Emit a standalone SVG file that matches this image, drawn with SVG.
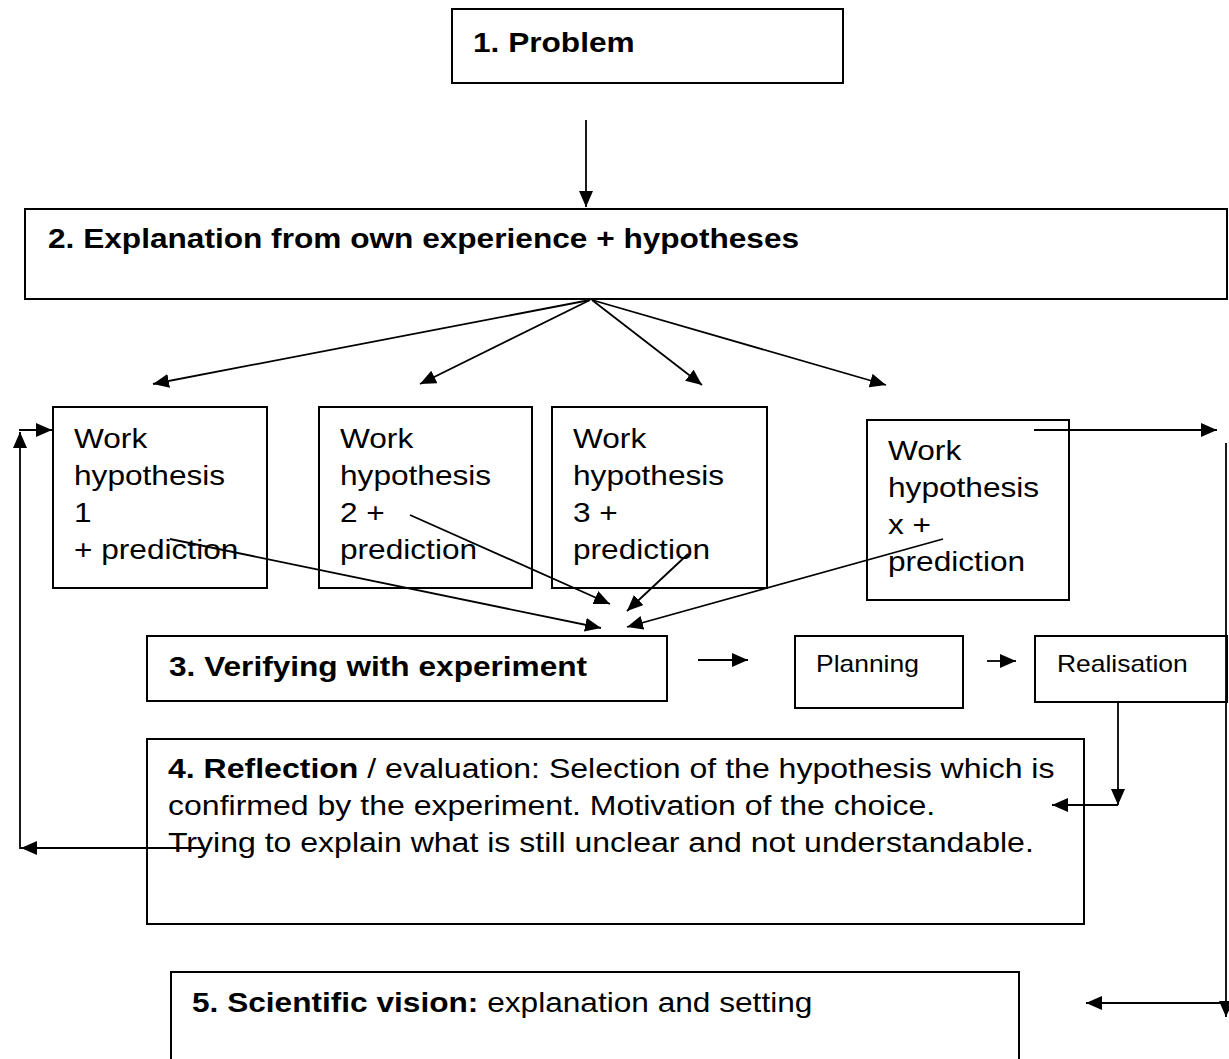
<svg xmlns="http://www.w3.org/2000/svg" width="1229" height="1059" viewBox="0 0 1229 1059">
<style>
  .box { fill: none; stroke: #000; stroke-width: 2; }
  .t { font-family: "Liberation Sans", Arial, sans-serif; font-size: 27.5px; fill: #000; }
  .b { font-weight: bold; }
  .s { font-size: 23px; }
  .c { fill: none; stroke: #000; stroke-width: 1.8; }
  .a { marker-end: url(#ah); }
</style>
<defs>
  <marker id="ah" markerUnits="userSpaceOnUse" markerWidth="17" markerHeight="15" refX="16" refY="7" orient="auto">
    <path d="M0,0 L16,7 L0,14 z" fill="#000"/>
  </marker>
</defs>
<rect width="1229" height="1059" fill="#fff"/>

<g id="n1">
  <rect class="box" x="452" y="9" width="391" height="74"/>
  <text class="t b" transform="translate(473,52) scale(1.15,1)">1. Problem</text>
</g>

<g id="n2">
  <rect class="box" x="25" y="209" width="1202" height="90"/>
  <text class="t b" transform="translate(48,248) scale(1.15,1)">2. Explanation from own experience + hypotheses</text>
</g>

<g id="wh1">
  <rect class="box" x="53" y="407" width="214" height="181"/>
  <text class="t" transform="translate(74,448) scale(1.15,1)"><tspan x="0" y="0">Work</tspan><tspan x="0" y="37">hypothesis</tspan><tspan x="0" y="74">1</tspan><tspan x="0" y="111">+ prediction</tspan></text>
</g>

<g id="wh2">
  <rect class="box" x="319" y="407" width="213" height="181"/>
  <text class="t" transform="translate(340,448) scale(1.15,1)"><tspan x="0" y="0">Work</tspan><tspan x="0" y="37">hypothesis</tspan><tspan x="0" y="74">2 +</tspan><tspan x="0" y="111">prediction</tspan></text>
</g>

<g id="wh3">
  <rect class="box" x="552" y="407" width="215" height="181"/>
  <text class="t" transform="translate(573,448) scale(1.15,1)"><tspan x="0" y="0">Work</tspan><tspan x="0" y="37">hypothesis</tspan><tspan x="0" y="74">3 +</tspan><tspan x="0" y="111">prediction</tspan></text>
</g>

<g id="whx">
  <rect class="box" x="867" y="420" width="202" height="180"/>
  <text class="t" transform="translate(888,460) scale(1.15,1)"><tspan x="0" y="0">Work</tspan><tspan x="0" y="37">hypothesis</tspan><tspan x="0" y="74">x +</tspan><tspan x="0" y="111">prediction</tspan></text>
</g>

<g id="n3">
  <rect class="box" x="147" y="636" width="520" height="65"/>
  <text class="t b" transform="translate(169,676) scale(1.15,1)">3. Verifying with experiment</text>
</g>

<g id="planning">
  <rect class="box" x="795" y="636" width="168" height="72"/>
  <text class="t s" transform="translate(816,672) scale(1.15,1)">Planning</text>
</g>

<g id="realisation">
  <rect class="box" x="1035" y="636" width="192" height="66"/>
  <text class="t s" transform="translate(1057,672) scale(1.15,1)">Realisation</text>
</g>

<g id="n4">
  <rect class="box" x="147" y="739" width="937" height="185"/>
  <text class="t" transform="translate(168,778) scale(1.165,1)"><tspan x="0" y="0"><tspan class="b">4. Reflection</tspan> / evaluation: Selection of the hypothesis which is</tspan><tspan x="0" y="37">confirmed by the experiment. Motivation of the choice.</tspan><tspan x="0" y="74">Trying to explain what is still unclear and not understandable.</tspan></text>
</g>

<g id="n5">
  <rect class="box" x="171" y="972" width="848" height="100"/>
  <text class="t" transform="translate(192,1012) scale(1.15,1)"><tspan class="b">5. Scientific vision:</tspan> explanation and setting</text>
</g>

<g id="connectors">
  <line class="c a" x1="586" y1="120" x2="586" y2="207"/>
  <line class="c a" x1="590" y1="300" x2="153" y2="384"/>
  <line class="c a" x1="590" y1="300" x2="420" y2="384"/>
  <line class="c a" x1="592" y1="300" x2="702" y2="385"/>
  <line class="c a" x1="592" y1="300" x2="886" y2="385"/>
  <line class="c a" x1="170" y1="539" x2="601" y2="628"/>
  <line class="c a" x1="410" y1="515" x2="610" y2="604"/>
  <line class="c a" x1="688" y1="554" x2="627" y2="611"/>
  <line class="c a" x1="943" y1="539" x2="627" y2="627"/>
  <line class="c a" x1="698" y1="660" x2="748" y2="660"/>
  <line class="c a" x1="987" y1="661" x2="1016" y2="661"/>
  <line class="c a" x1="1118" y1="702" x2="1118" y2="805"/>
  <line class="c a" x1="1118" y1="805" x2="1052" y2="805"/>
  <line class="c a" x1="203" y1="848" x2="21" y2="848"/>
  <line class="c a" x1="20" y1="849" x2="20" y2="432"/>
  <line class="c a" x1="19" y1="430" x2="52" y2="430"/>
  <line class="c a" x1="1034" y1="430" x2="1217" y2="430"/>
  <line class="c a" x1="1226" y1="443" x2="1226" y2="1017"/>
  <line class="c a" x1="1226" y1="1003" x2="1086" y2="1003"/>
</g>
</svg>
